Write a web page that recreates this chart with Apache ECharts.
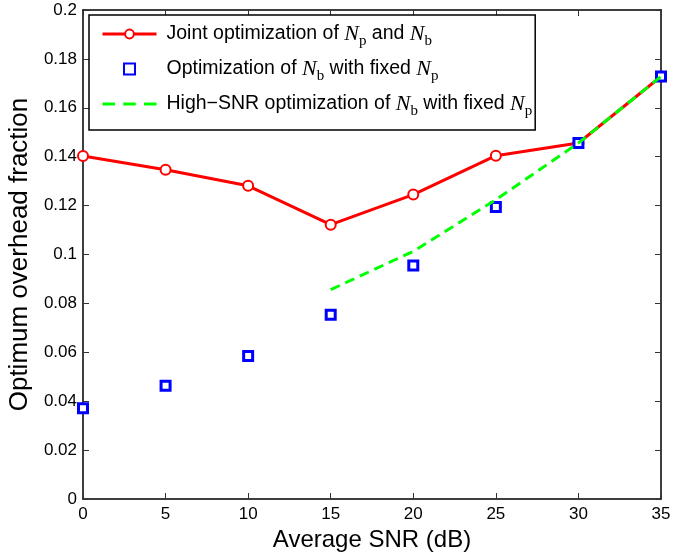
<!DOCTYPE html>
<html>
<head>
<meta charset="utf-8">
<script src="https://cdn.jsdelivr.net/npm/echarts@6/dist/echarts.min.js"></script>
<style>html,body{margin:0;padding:0;background:#fff;}#c{width:694px;height:552px;}</style>
</head>
<body>
<div id="c"></div>
<script>
// Data
var snr = [0, 5, 10, 15, 20, 25, 30, 35];
var jointOpt = [0.1403, 0.1347, 0.1281, 0.1122, 0.1245, 0.1404, 0.1456, 0.1728];
var fixedNpOpt = [0.0371, 0.0463, 0.0585, 0.0754, 0.0955, 0.1194, 0.1456, 0.1728];
var highSnrX = [15, 20, 25, 30, 35];
var highSnrOpt = [0.0856, 0.1013, 0.1224, 0.1456, 0.1728];
var xTicks = [0, 5, 10, 15, 20, 25, 30, 35];
var yTicks = [0, 0.02, 0.04, 0.06, 0.08, 0.1, 0.12, 0.14, 0.16, 0.18, 0.2];

function pairs(xs, ys) { return xs.map(function (x, i) { return [x, ys[i]]; }); }

var legendLabels = {
  'joint': '{t|Joint optimization of }{n|N}{s|p}{t| and }{n|N}{s|b}',
  'fixed': '{t|Optimization of }{n|N}{s|b}{t| with fixed }{n|N}{s|p}',
  'high': '{t|High\u2212SNR optimization of }{n|N}{s|b}{t| with fixed }{n|N}{s|p}'
};

var sans = 'Liberation Sans, Arial, sans-serif';
var serif = 'Liberation Serif, Times New Roman, serif';
var xStep = xTicks[1] - xTicks[0];
var yStep = yTicks[1] - yTicks[0];

function xAxisDef(pos, show) {
  return {
    type: 'value', position: pos, min: xTicks[0], max: xTicks[xTicks.length - 1], interval: xStep,
    axisLine: { show: true, onZero: false, lineStyle: { color: '#000', width: 1.5 } },
    axisTick: { show: true, inside: true, length: 6, lineStyle: { color: '#333', width: 1 } },
    axisLabel: { show: show, color: '#000', fontSize: 17, fontFamily: sans, margin: 7 },
    splitLine: { show: false },
    name: show ? 'Average SNR (dB)' : '', nameLocation: 'middle', nameGap: 19,
    nameTextStyle: { color: '#000', fontSize: 24, fontFamily: sans }
  };
}
function yAxisDef(pos, show) {
  return {
    type: 'value', position: pos, min: yTicks[0], max: yTicks[yTicks.length - 1], interval: yStep,
    axisLine: { show: true, onZero: false, lineStyle: { color: '#000', width: 1.5 } },
    axisTick: { show: true, inside: true, length: 6, lineStyle: { color: '#333', width: 1 } },
    axisLabel: { show: show, color: '#000', fontSize: 17, fontFamily: sans, margin: 6 },
    splitLine: { show: false },
    name: show ? 'Optimum overhead fraction' : '', nameLocation: 'middle', nameGap: 45,
    nameTextStyle: { color: '#000', fontSize: 26, fontFamily: sans }
  };
}

var chart = echarts.init(document.getElementById('c'), null, { renderer: 'canvas' });
chart.setOption({
  animation: false,
  backgroundColor: '#fff',
  grid: { left: 83, right: 33, top: 10, bottom: 53, containLabel: false, outerBoundsMode: 'none' },
  xAxis: [xAxisDef('bottom', true), xAxisDef('top', false)],
  yAxis: [yAxisDef('left', true), yAxisDef('right', false)],
  legend: {
    orient: 'vertical', left: 89, top: 15,
    padding: [8, 3, 11, 12], itemGap: 9, itemWidth: 54, itemHeight: 11,
    backgroundColor: '#fff', borderColor: '#000', borderWidth: 1.5,
    data: [
      { name: 'joint', lineStyle: { width: 3 } },
      { name: 'fixed', icon: 'path://M0,0h10v10h-10z' },
      { name: 'high', icon: 'path://M0,0h12v3h-12zM20,0h12v3h-12zM40,0h12v3h-12z',
        itemStyle: { color: '#00ff00', borderWidth: 0 } }
    ],
    formatter: function (name) { return legendLabels[name]; },
    textStyle: {
      color: '#000', fontSize: 20, fontFamily: sans, padding: [0, 0, 0, 5],
      rich: {
        t: { fontSize: 19.5, fontFamily: sans, color: '#000', lineHeight: 30 },
        n: { fontSize: 22, fontFamily: serif, fontStyle: 'italic', color: '#000', lineHeight: 30 },
        s: { fontSize: 15, fontFamily: serif, color: '#000', lineHeight: 30, verticalAlign: 'bottom' }
      }
    }
  },
  series: [
    {
      name: 'joint', type: 'line', data: pairs(snr, jointOpt),
      symbol: 'emptyCircle', symbolSize: 10,
      lineStyle: { color: '#ff0000', width: 3 },
      itemStyle: { color: '#ff0000', borderColor: '#ff0000', borderWidth: 2.2 },
      z: 2
    },
    {
      name: 'fixed', type: 'scatter', data: pairs(snr, fixedNpOpt),
      symbol: 'rect', symbolSize: 9,
      itemStyle: { color: '#ffffff', borderColor: '#0000ff', borderWidth: 3, opacity: 1 },
      z: 3
    },
    {
      name: 'high', type: 'line', data: pairs(highSnrX, highSnrOpt),
      symbol: 'none',
      lineStyle: { color: '#00ff00', width: 3, type: [10, 6] },
      itemStyle: { color: '#00ff00' },
      z: 4
    }
  ]
});
</script>
</body>
</html>
